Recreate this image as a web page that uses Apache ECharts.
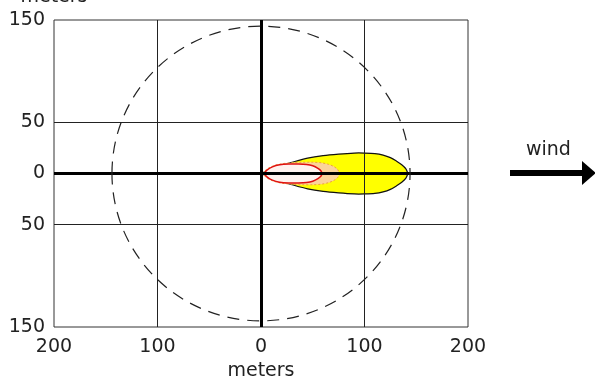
<!DOCTYPE html>
<html>
<head>
<meta charset="utf-8">
<script src="https://cdn.jsdelivr.net/npm/echarts@6/dist/echarts.min.js"></script>
<style>
html,body{margin:0;padding:0;background:#fff;}
#chart{width:595px;height:376px;}
</style>
</head>
<body>
<div id="chart"></div>
<script>
// ---- data (meters) ----
var xTicks = [-200, -100, 0, 100, 200];
var yTickLabels = [150, 50, 0, -50, -150];
var gridX = [-100, 100];
var gridY = [50, -50];
var circleRadius = [144];

// yellow zone: downwind distance and half-width
var yellowX = [0, 10, 20, 30, 45, 60, 75, 90, 100, 110, 118, 125, 131, 136, 140, 142];
var yellowH = [0, 4.5, 8, 11, 15, 17.5, 19, 20, 20, 19.5, 18, 15.5, 12, 8.5, 4.5, 0];
// orange zone
var orangeX = [1, 6, 12, 20, 30, 40, 50, 58, 65, 70, 74, 76];
var orangeH = [0, 4.5, 7.5, 9.5, 10.5, 11, 11, 10.5, 9, 7, 4, 0];
// red zone
var redX = [3, 6, 11, 18, 27, 36, 44, 50, 55, 58, 59];
var redH = [0, 3.5, 6.5, 8.5, 9.3, 9.3, 8.8, 7.5, 5, 2.5, 0];

var FONT = 'DejaVu Sans';

function zoneSeries(name, xs, hs, fill, stroke, lw, dash, z) {
  return {
    type: 'custom', name: name, z: z,
    data: [[0, 0]],
    clip: true,
    renderItem: function (params, api) {
      var pts = [];
      for (var i = 0; i < xs.length; i++) pts.push(api.coord([xs[i], hs[i]]));
      for (var j = xs.length - 1; j >= 0; j--) pts.push(api.coord([xs[j], -hs[j]]));
      return {
        type: 'polygon',
        shape: { points: pts, smooth: 0.3 },
        style: { fill: fill, stroke: stroke, lineWidth: lw, lineDash: dash }
      };
    }
  };
}

var chart = echarts.init(document.getElementById('chart'), null, { renderer: 'canvas' });

var markData = [];
gridX.forEach(function (v) { markData.push({ xAxis: v, lineStyle: { width: 1, color: '#222', type: 'solid' } }); });
gridY.forEach(function (v) { markData.push({ yAxis: v, lineStyle: { width: 1, color: '#222', type: 'solid' } }); });
markData.push({ xAxis: 0, lineStyle: { width: 3, color: '#000', type: 'solid' } });
markData.push({ yAxis: 0, lineStyle: { width: 3, color: '#000', type: 'solid' } });

var option = {
  animation: false,
  backgroundColor: '#fff',
  grid: { left: 54, right: 127, top: 20, bottom: 49, containLabel: false, outerBoundsMode: 'none',
    show: true, borderColor: '#333', borderWidth: 1, backgroundColor: 'transparent' },
  xAxis: {
    type: 'value', min: xTicks[0], max: xTicks[xTicks.length - 1], interval: 100,
    axisLine: { show: false, onZero: false }, axisTick: { show: false }, splitLine: { show: false },
    axisLabel: { color: '#222', fontFamily: FONT, fontSize: 19, margin: 11,
      formatter: function (v) { return xTicks.indexOf(v) >= 0 ? String(Math.abs(v)) : ''; } },
    name: 'meters', nameLocation: 'middle', nameGap: 34,
    nameTextStyle: { color: '#222', fontFamily: FONT, fontSize: 19 }
  },
  yAxis: {
    type: 'value', min: -150, max: 150, interval: 50,
    axisLine: { show: false, onZero: false }, axisTick: { show: false }, splitLine: { show: false },
    axisLabel: { color: '#222', fontFamily: FONT, fontSize: 19, margin: 9,
      formatter: function (v) { return yTickLabels.indexOf(v) >= 0 ? String(Math.abs(v)) : ''; } },
    name: 'meters', nameLocation: 'end', nameGap: 13,
    nameTextStyle: { color: '#222', fontFamily: FONT, fontSize: 19, align: 'center' }
  },
  series: [
    zoneSeries('yellow', yellowX, yellowH, '#ffff00', '#111', 1.2, null, 1),
    zoneSeries('orange', orangeX, orangeH, '#fbd39a', '#f0a040', 1, [2, 2], 2),
    zoneSeries('red', redX, redH, '#fff2ee', '#e01010', 1.5, null, 3),
    {
      type: 'custom', name: 'circle', z: 6,
      data: circleRadius.map(function (r) { return [0, 0, r]; }),
      renderItem: function (params, api) {
        var c = api.coord([api.value(0), api.value(1)]);
        var sz = api.size([api.value(2), api.value(2)]);
        return {
          type: 'ellipse',
          shape: { cx: c[0], cy: c[1], rx: sz[0], ry: sz[1] },
          style: { fill: null, stroke: '#222', lineWidth: 1.2, lineDash: [12, 8] }
        };
      },
      markLine: {
        silent: true, symbol: 'none', label: { show: false },
        z: 5,
        data: markData
      }
    }
  ],
  graphic: [
    { type: 'text', left: 526, top: 141, style: { text: 'wind', font: '19px "DejaVu Sans"', fill: '#222' } },
    { type: 'line', shape: { x1: 510, y1: 173, x2: 584, y2: 173 }, style: { stroke: '#000', lineWidth: 6 } },
    { type: 'polygon', shape: { points: [[582, 161], [596, 173], [582, 185]] }, style: { fill: '#000' } }
  ]
};
chart.setOption(option);
</script>
</body>
</html>
